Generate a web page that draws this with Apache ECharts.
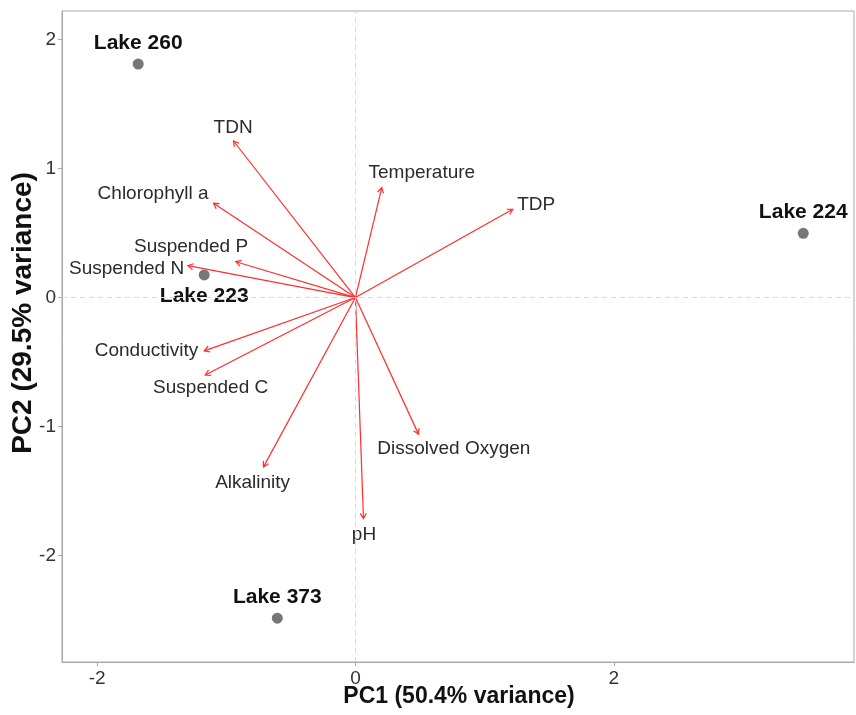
<!DOCTYPE html>
<html>
<head>
<meta charset="utf-8">
<script src="https://cdn.jsdelivr.net/npm/echarts@6/dist/echarts.min.js"></script>
<style>
  html, body { margin: 0; padding: 0; background: #ffffff; }
  #chart { width: 856px; height: 715px; }
</style>
</head>
<body>
<div id="chart"></div>
<script>
// Sample scores on the first two principal components
const lakes = ['Lake 260', 'Lake 224', 'Lake 223', 'Lake 373'];
const lakePC1 = [-1.682, 3.467, -1.171, -0.605];
const lakePC2 = [1.811, 0.498, 0.175, -2.486];
const lakeLabelSide = ['top', 'top', 'bottom', 'top'];

// Variable loadings (arrow tips) and where their names are placed
const variables = ['TDN', 'Chlorophyll a', 'Suspended P', 'Suspended N', 'Conductivity',
  'Suspended C', 'Alkalinity', 'pH', 'Dissolved Oxygen', 'Temperature', 'TDP'];
const loadPC1 = [-0.944, -1.099, -0.926, -1.297, -1.171, -1.163, -0.712, 0.062, 0.488, 0.204, 1.218];
const loadPC2 = [1.214, 0.731, 0.278, 0.247, -0.413, -0.601, -1.313, -1.713, -1.059, 0.852, 0.684];
const labelPC1 = [-0.947, -1.567, -1.273, -1.772, -1.618, -1.121, -0.796, 0.066, 0.762, 0.514, 1.399];
const labelPC2 = [1.319, 0.808, 0.392, 0.223, -0.410, -0.702, -1.433, -1.843, -1.175, 0.966, 0.716];

// Axis ticks
const xTicks = [-2, 0, 2];
const yTicks = [-2, -1, 0, 1, 2];

const FONT = "'Liberation Sans', Arial, sans-serif";
const ARROW = '#ff2e2e';

const chart = echarts.init(document.getElementById('chart'), null, { renderer: 'canvas' });

function arrowItem(params, api) {
  const o = api.coord([0, 0]);
  const t = api.coord([api.value(0), api.value(1)]);
  const ang = Math.atan2(t[1] - o[1], t[0] - o[0]);
  const L = 6, a = Math.PI / 6;
  const h1 = [t[0] - L * Math.cos(ang - a), t[1] - L * Math.sin(ang - a)];
  const h2 = [t[0] - L * Math.cos(ang + a), t[1] - L * Math.sin(ang + a)];
  return {
    type: 'group',
    children: [
      { type: 'line', shape: { x1: o[0], y1: o[1], x2: t[0], y2: t[1] },
        style: { stroke: ARROW, lineWidth: 1.2 } },
      { type: 'polyline', shape: { points: [h1, t, h2] },
        style: { stroke: ARROW, lineWidth: 1.2, fill: null } }
    ]
  };
}

const option = {
  animation: false,
  backgroundColor: '#ffffff',
  grid: {
    left: 62, right: 2, top: 11, bottom: 53,
    show: true, borderColor: '#a8a8a8', borderWidth: 1, backgroundColor: 'transparent'
  },
  xAxis: {
    type: 'value', min: -2.272, max: 3.86,
    axisLine: { show: true, onZero: false, lineStyle: { color: '#a8a8a8' } },
    axisTick: { show: true, length: 4, customValues: xTicks, lineStyle: { color: '#a8a8a8' } },
    axisLabel: { customValues: xTicks, margin: 7, fontSize: 19, color: '#333333', fontFamily: FONT },
    splitLine: { show: false }
  },
  yAxis: {
    type: 'value', min: -2.826, max: 2.222,
    axisLine: { show: true, onZero: false, lineStyle: { color: '#a8a8a8' } },
    axisTick: { show: true, length: 4, customValues: yTicks, lineStyle: { color: '#a8a8a8' } },
    axisLabel: { customValues: yTicks, margin: 6, fontSize: 19, color: '#333333', fontFamily: FONT },
    splitLine: { show: false }
  },
  graphic: [
    { type: 'text', x: 459, y: 697,
      style: { text: 'PC1 (50.4% variance)', font: "bold 23px " + FONT, fill: '#111',
        textAlign: 'center', textVerticalAlign: 'middle' } },
    { type: 'text', x: 23, y: 313, rotation: Math.PI / 2,
      style: { text: 'PC2 (29.5% variance)', font: "bold 28px " + FONT, fill: '#111',
        textAlign: 'center', textVerticalAlign: 'middle' } }
  ],
  series: [
    {
      // variable names, plus dashed reference lines through the origin
      type: 'scatter', z: 1,
      symbol: 'circle', symbolSize: 1,
      itemStyle: { color: 'rgba(0,0,0,0)', opacity: 1 },
      data: variables.map((v, i) => ({ name: v, value: [labelPC1[i], labelPC2[i]] })),
      label: { show: true, position: 'inside', formatter: '{b}', fontSize: 19,
        color: '#2b2b2b', fontFamily: FONT },
      silent: true,
      markLine: {
        silent: true, symbol: ['none', 'none'], label: { show: false },
        lineStyle: { type: [5, 4], color: '#dadada', width: 1 },
        data: [{ xAxis: 0 }, { yAxis: 0 }]
      }
    },
    {
      type: 'custom', z: 3,
      renderItem: arrowItem,
      encode: { x: 0, y: 1 },
      data: variables.map((v, i) => [loadPC1[i], loadPC2[i]]),
      silent: true
    },
    {
      type: 'scatter', z: 4,
      symbol: 'circle', symbolSize: 11,
      itemStyle: { color: '#777777', opacity: 1 },
      data: lakes.map((n, i) => ({
        name: n, value: [lakePC1[i], lakePC2[i]],
        label: { position: lakeLabelSide[i] }
      })),
      label: { show: true, formatter: '{b}', distance: 5, fontSize: 21, fontWeight: 'bold',
        color: '#111', fontFamily: FONT }
    }
  ]
};

chart.setOption(option);
</script>
</body>
</html>
